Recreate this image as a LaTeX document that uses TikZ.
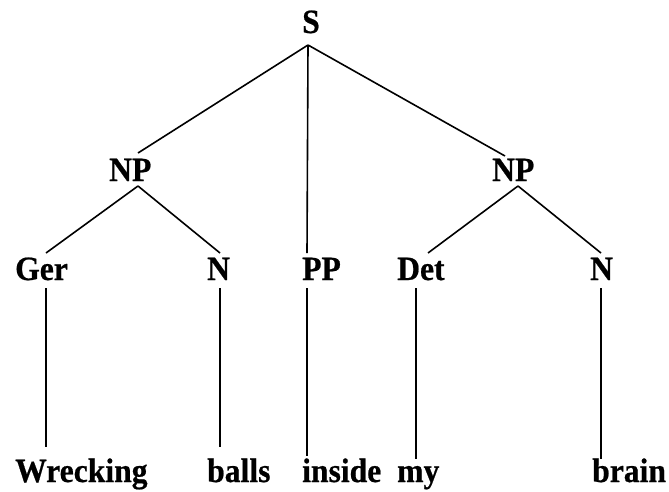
\documentclass[tikz,border=0pt]{standalone}
\usepackage{fontspec}
\setmainfont{Liberation Serif}[FakeStretch=0.93,BoldFeatures={FakeBold=0.6}]
\begin{document}
\begin{tikzpicture}[x=1pt,y=-1pt,
  lbl/.style={anchor=base west,inner sep=0pt,font=\fontsize{34}{34}\selectfont\bfseries},
  edge/.style={line width=1.6pt}]
\useasboundingbox (0,0) rectangle (669,491);
% labels
\node[lbl] (S) at (302,33) {S};
\node[lbl] (NPa) at (109,181) {NP};
\node[lbl] (NPb) at (492,181) {NP};
\node[lbl] (Ger) at (15,280) {Ger};
\node[lbl] (Na) at (207,280) {N};
\node[lbl] (PP) at (302,280) {PP};
\node[lbl] (Det) at (397,280) {Det};
\node[lbl] (Nb) at (590,280) {N};
\node[lbl] (w1) at (15,482) {Wrecking};
\node[lbl] (w2) at (207,482) {balls};
\node[lbl] (w3) at (302,482) {inside};
\node[lbl] (w4) at (397,482) {my};
\node[lbl] (w5) at (592,482) {brain};
% connector end points
\coordinate (Sb) at (308,45);
\coordinate (NPat) at (138,153);
\coordinate (NPbt) at (505,156);
\coordinate (PPt) at (307,253);
\coordinate (NPab) at (138,186);
\coordinate (NPbb) at (518,186);
\coordinate (Gert) at (46,253);
\coordinate (Nat) at (220,253);
\coordinate (Dett) at (428,253);
\coordinate (Nbt) at (601,253);
\coordinate (Gerb) at (46,288);
\coordinate (Nab) at (220,288);
\coordinate (PPb) at (307,288);
\coordinate (Detb) at (416,288);
\coordinate (Nbb) at (601,288);
\coordinate (w1t) at (46,447);
\coordinate (w2t) at (220,447);
\coordinate (w3t) at (307,456);
\coordinate (w4t) at (416,459);
\coordinate (w5t) at (601,459);
% connectors
\draw[edge] (Sb) -- (NPat);
\draw[edge] (Sb) -- (NPbt);
\draw[edge] (Sb) -- (PPt);
\draw[edge] (NPab) -- (Gert);
\draw[edge] (NPab) -- (Nat);
\draw[edge] (NPbb) -- (Dett);
\draw[edge] (NPbb) -- (Nbt);
\draw[edge] (Gerb) -- (w1t);
\draw[edge] (Nab) -- (w2t);
\draw[edge] (PPb) -- (w3t);
\draw[edge] (Detb) -- (w4t);
\draw[edge] (Nbb) -- (w5t);
\end{tikzpicture}
\end{document}
